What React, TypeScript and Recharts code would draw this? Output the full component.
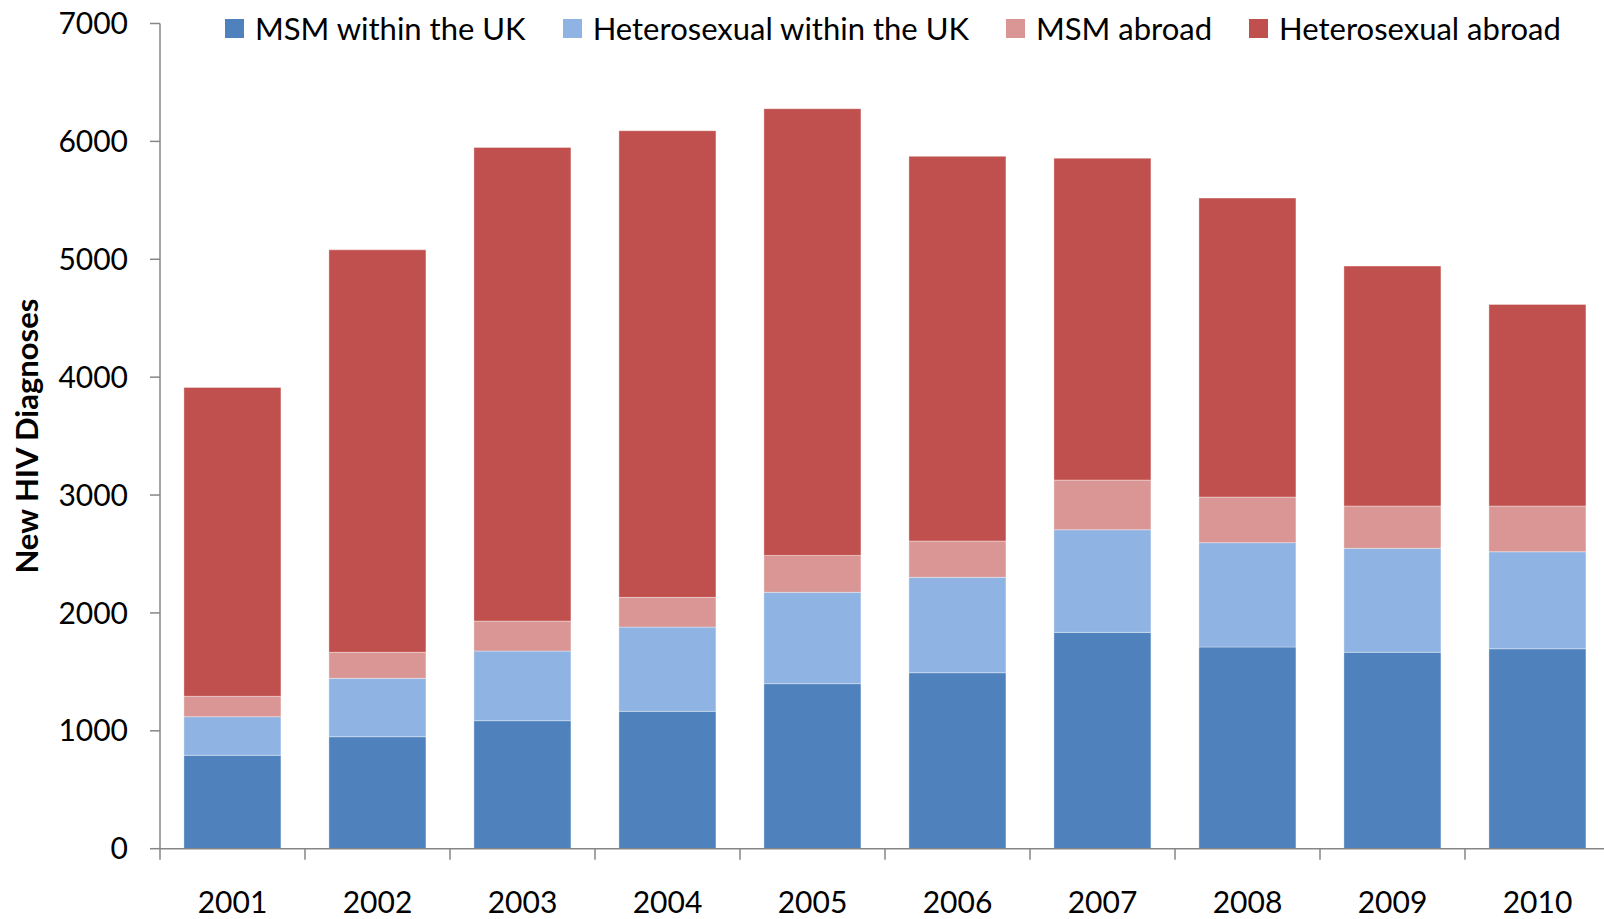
import React from "react";
import { BarChart, Bar, XAxis, YAxis } from "recharts";

// New HIV diagnoses by exposure route and where infection was acquired
const years = ["2001", "2002", "2003", "2004", "2005", "2006", "2007", "2008", "2009", "2010"];
const msmUk = [792, 950, 1086, 1165, 1400, 1493, 1835, 1711, 1666, 1696];
const hetUk = [328, 495, 591, 715, 775, 809, 871, 885, 882, 823];
const msmAbroad = [173, 221, 254, 252, 313, 308, 421, 387, 359, 388];
const hetAbroad = [2620, 3414, 4018, 3958, 3789, 3263, 2731, 2536, 2035, 1710];
const yTicks = [0, 1000, 2000, 3000, 4000, 5000, 6000, 7000];

const series = [
  { key: "msmUk", name: "MSM within the UK", color: "#4F81BD", values: msmUk },
  { key: "hetUk", name: "Heterosexual within the UK", color: "#8FB3E2", values: hetUk },
  { key: "msmAbroad", name: "MSM abroad", color: "#D99694", values: msmAbroad },
  { key: "hetAbroad", name: "Heterosexual abroad", color: "#C0504D", values: hetAbroad },
];

const data = years.map((year, i) => {
  const row: Record<string, string | number> = { year };
  series.forEach(s => {
    row[s.key] = s.values[i];
  });
  return row;
});

const FONT = "Lato, 'Open Sans', sans-serif";
const AXIS = "#868686";

// year label plus the small tick marks sitting on the band edges
const YearTick = ({ x, y, payload, index, width, visibleTicksCount }: any) => {
  const band = width / visibleTicksCount;
  const left = x - band / 2;
  const right = x + band / 2;
  return (
    <g>
      <line x1={left} x2={left} y1={y} y2={y + 11} stroke={AXIS} strokeWidth={1.5} />
      {index === visibleTicksCount - 1 && (
        <line x1={right} x2={right} y1={y} y2={y + 11} stroke={AXIS} strokeWidth={1.5} />
      )}
      <text
        x={x}
        y={y + 43}
        dy="0.71em"
        textAnchor="middle"
        fontFamily={FONT}
        fontSize={30}
        fill="#000"
      >
        {payload.value}
      </text>
    </g>
  );
};

const YTitle = ({ viewBox }: any) => {
  const cx = viewBox.x + 26;
  const cy = viewBox.y + viewBox.height / 2;
  return (
    <text
      x={cx}
      y={cy}
      transform={`rotate(-90, ${cx}, ${cy})`}
      textAnchor="middle"
      dominantBaseline="central"
      fontFamily={FONT}
      fontWeight={700}
      fontSize={31}
      fill="#000"
    >
      New HIV Diagnoses
    </text>
  );
};

export default function App() {
  return (
    <div
      style={{
        position: "fixed",
        left: 0,
        top: 0,
        width: 1604,
        height: 919,
        overflow: "hidden",
        background: "#fff",
      }}
    >
      <BarChart
        width={1620}
        height={919}
        data={data}
        margin={{ top: 23.5, right: 10, bottom: 0, left: 0 }}
        barCategoryGap="16.5%"
      >
        <XAxis
          dataKey="year"
          height={70.3}
          tickSize={0}
          tickMargin={0}
          tickLine={false}
          axisLine={{ stroke: AXIS, strokeWidth: 1.5 }}
          tick={<YearTick />}
          interval={0}
        />
        <YAxis
          width={160}
          domain={[0, 7000]}
          ticks={yTicks}
          interval={0}
          tickSize={10}
          tickMargin={22}
          axisLine={{ stroke: AXIS, strokeWidth: 1.5 }}
          tickLine={{ stroke: AXIS, strokeWidth: 1.5 }}
          tick={{ fontFamily: FONT, fontSize: 30, fill: "#000" }}
          label={<YTitle />}
        />
        {series.map(s => (
          <Bar
            key={s.key}
            dataKey={s.key}
            name={s.name}
            stackId="all"
            fill={s.color}
            stroke="#ffffff"
            strokeOpacity={0.35}
            strokeWidth={1}
            isAnimationActive={false}
          />
        ))}
      </BarChart>

      <div
        style={{
          position: "absolute",
          left: 225,
          top: 8,
          height: 40,
          display: "flex",
          alignItems: "center",
          gap: 37,
          fontFamily: FONT,
          fontSize: 31,
          color: "#000",
          whiteSpace: "nowrap",
        }}
      >
        {series.map(s => (
          <div key={s.key} style={{ display: "flex", alignItems: "center", gap: 11 }}>
            <span style={{ width: 19, height: 19, background: s.color, display: "inline-block" }} />
            <span>{s.name}</span>
          </div>
        ))}
      </div>
    </div>
  );
}
